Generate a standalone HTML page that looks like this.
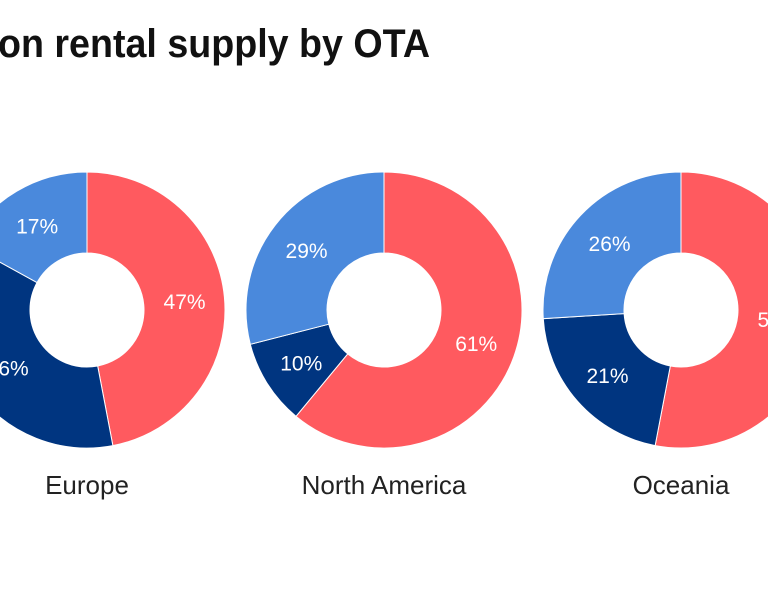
<!DOCTYPE html>
<html><head><meta charset="utf-8"><style>
html,body{margin:0;padding:0;background:#fff;width:768px;height:600px;overflow:hidden}
svg{display:block}
text{font-family:"Liberation Sans",sans-serif}
</style></head><body>
<svg id="chart" width="768" height="600">
<text x="430" y="57" text-anchor="end" font-size="40" font-weight="bold" fill="#111" textLength="432" lengthAdjust="spacingAndGlyphs">on rental supply by OTA</text>
</svg>
<script>
const regions = ["Europe","North America","Oceania"];
const redShare = [47,61,53];
const navyShare = [36,10,21];
const lightShare = [17,29,26];
const centersX = [87,384,681];
const colors = ["#ff5a5f","#003580","#4a89dc"];
const svg = document.getElementById('chart');
const NS = "http://www.w3.org/2000/svg";
const cy = 310, R = 138, r = 57, labelR = 98;
function pt(a, rad, cx){ return [cx + rad*Math.sin(a), cy - rad*Math.cos(a)]; }
regions.forEach((name,i)=>{
  const cx = centersX[i];
  const vals = [redShare[i], navyShare[i], lightShare[i]];
  const total = vals.reduce((s,v)=>s+v,0);
  let start = 0;
  vals.forEach((v,j)=>{
    const a0 = start/total*2*Math.PI, a1 = (start+v)/total*2*Math.PI;
    const large = (a1-a0) > Math.PI ? 1 : 0;
    const [x0,y0]=pt(a0,R,cx),[x1,y1]=pt(a1,R,cx),[x2,y2]=pt(a1,r,cx),[x3,y3]=pt(a0,r,cx);
    const p = document.createElementNS(NS,'path');
    p.setAttribute('d',`M${x0},${y0}A${R},${R} 0 ${large} 1 ${x1},${y1}L${x2},${y2}A${r},${r} 0 ${large} 0 ${x3},${y3}Z`);
    p.setAttribute('fill',colors[j]);
    p.setAttribute('stroke','#fff');
    p.setAttribute('stroke-width','1');
    
    
    svg.appendChild(p);
    const am = (a0+a1)/2;
    const [lx,ly] = pt(am,labelR,cx);
    const t = document.createElementNS(NS,'text');
    t.setAttribute('x',lx); t.setAttribute('y',ly+8);
    t.setAttribute('text-anchor','middle');
    t.setAttribute('font-size','21');
    t.setAttribute('fill','#fff');
    t.textContent = v + '%';
    
    
    svg.appendChild(t);
    start += v;
  });
  const lab = document.createElementNS(NS,'text');
  lab.setAttribute('x',cx); lab.setAttribute('y',494);
  lab.setAttribute('text-anchor','middle');
  lab.setAttribute('font-size','26');
  lab.setAttribute('fill','#222');
  lab.textContent = name;
  
  
  svg.appendChild(lab);
});
</script>
</body></html>
